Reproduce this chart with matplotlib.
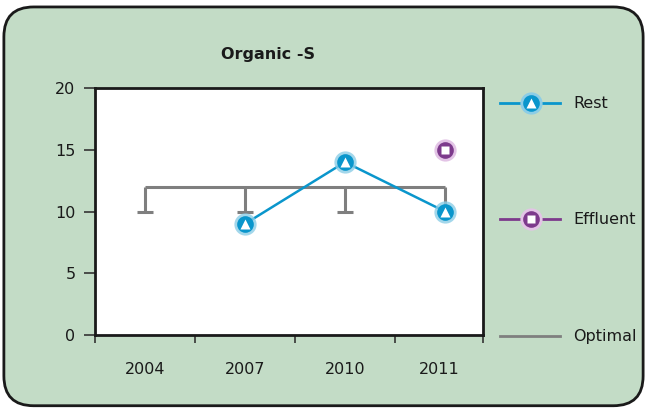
import numpy as np
import matplotlib.pyplot as plt
from matplotlib.patches import FancyBboxPatch
from matplotlib.lines import Line2D

# chart data
years = ['2004', '2007', '2010', '2011']
rest = [np.nan, 9, 14, 10]
effluent = [np.nan, np.nan, np.nan, 15]
optimal = [12, 12, 12, 12]
optimal_low = [10, 10, 10, 10]

BG = '#C3DCC6'
BLUE = '#0A96CC'
PURPLE = '#7D3A8C'
GRAY = '#7F7F7F'

fig = plt.figure(figsize=(6.47, 4.09), dpi=100)
fig.patch.set_facecolor('white')

# rounded green panel, kept behind the axes
panel = FancyBboxPatch((0.006, 0.008), 0.988, 0.975,
                       boxstyle='round,pad=0,rounding_size=0.046',
                       transform=fig.transFigure, facecolor=BG,
                       edgecolor='#1a1a1a', linewidth=2, mutation_aspect=647 / 409,
                       zorder=-5)
fig.add_artist(panel)

ax = fig.add_axes([95 / 647, 74 / 409, 388 / 647, 247 / 409])
ax.set_zorder(2)
ax.set_facecolor('white')
x = np.arange(len(years))

# optimal: line at 12 with drops down to 10 (caps only at the bottom)
ax.plot(x, optimal, color=GRAY, lw=2.2, zorder=2, solid_capstyle='butt')
ax.vlines(x, optimal_low, optimal, color=GRAY, lw=2.2, zorder=2)
ax.plot(x, optimal_low, '_', ms=11, mew=2.2, color=GRAY, zorder=2)

# Rest series
ax.plot(x, rest, color=BLUE, lw=1.8, zorder=3)
ax.plot(x, rest, 'o', ms=16, color='#8CCDE6', mec='none', alpha=0.8, zorder=4)
ax.plot(x, rest, 'o', ms=12, color=BLUE, mec='none', zorder=5)
ax.plot(x, rest, '^', ms=6.5, color='white', mec='none', zorder=6)

# Effluent series
ax.plot(x, effluent, 'o', ms=16, color='#E3C4E6', mec='none', zorder=4)
ax.plot(x, effluent, 'o', ms=12, color=PURPLE, mec='none', zorder=5)
ax.plot(x, effluent, 's', ms=5.5, color='white', mec='none', zorder=6)

ax.set_xlim(-0.5, 3.38)
ax.set_ylim(0, 20)
ax.set_yticks([0, 5, 10, 15, 20])
ax.set_xticks([-0.5, 0.5, 1.5, 2.5, 3.38])
ax.set_xticklabels([])
ax.tick_params(axis='y', direction='out', length=8, width=1.2, color='#333333',
               labelsize=11.5, pad=6, labelcolor='#1a1a1a')
ax.tick_params(axis='x', direction='out', length=6, width=1.2, color='#333333')
label_pos = [0, 1, 2, 2.94]
for lp, yr in zip(label_pos, years):
    ax.text(lp, -0.11, yr, transform=ax.get_xaxis_transform(), ha='center', va='top',
            fontsize=11.5, color='#1a1a1a')
for s in ax.spines.values():
    s.set_linewidth(2)
    s.set_color('#1a1a1a')

fig.text(268 / 647, 1 - 55 / 409, 'Organic -S', ha='center', va='center',
         fontsize=11.5, fontweight='bold', color='#1a1a1a')

# legend drawn by hand to keep the wide spacing
def fy(py):
    return 1 - py / 409

leg_items = [('Rest', 103, BLUE), ('Effluent', 219, PURPLE), ('Optimal', 336, GRAY)]
for name, py, col in leg_items:
    fig.add_artist(Line2D([500 / 647, 560 / 647], [fy(py), fy(py)], color=col, lw=2,
                          transform=fig.transFigure))
    fig.text(573 / 647, fy(py), name, ha='left', va='center', fontsize=11.5, color='#1a1a1a')
fig.add_artist(Line2D([531 / 647], [fy(103)], marker='o', ms=16, color='#8CCDE6', mec='none',
                      transform=fig.transFigure))
fig.add_artist(Line2D([531 / 647], [fy(103)], marker='o', ms=12, color=BLUE, mec='none',
                      transform=fig.transFigure))
fig.add_artist(Line2D([531 / 647], [fy(103)], marker='^', ms=6.5, color='white', mec='none',
                      transform=fig.transFigure))
fig.add_artist(Line2D([531 / 647], [fy(219)], marker='o', ms=16, color='#E3C4E6', mec='none',
                      transform=fig.transFigure))
fig.add_artist(Line2D([531 / 647], [fy(219)], marker='o', ms=12, color=PURPLE, mec='none',
                      transform=fig.transFigure))
fig.add_artist(Line2D([531 / 647], [fy(219)], marker='s', ms=5.5, color='white', mec='none',
                      transform=fig.transFigure))

fig.savefig('out.png', dpi=100, facecolor=fig.get_facecolor())
